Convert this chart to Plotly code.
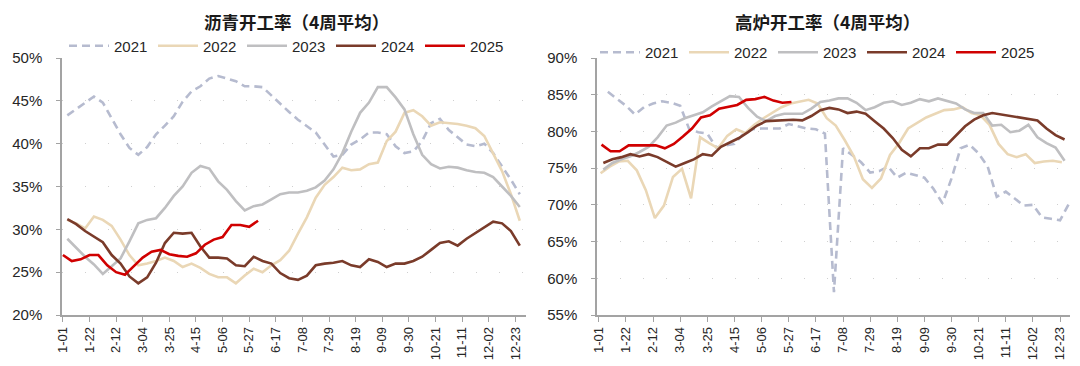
import numpy as np
import plotly.graph_objects as go

# ---------------- data ----------------
tick_labels = ["1-01", "1-22", "2-12", "3-04", "3-25", "4-15", "5-06", "5-27", "6-17",
               "7-08", "7-29", "8-19", "9-09", "9-30", "10-21", "11-11", "12-02", "12-23"]
tick_weeks = list(range(0, 52, 3))

years = ["2021", "2022", "2023", "2024", "2025"]

# 沥青开工率（4周平均） weekly values, %
asphalt_2021 = [43.3, 44.0, 44.8, 45.5, 44.8, 43.0, 41.1, 39.5, 38.7, 39.6, 41.1, 42.1, 43.2,
                44.9, 46.1, 46.7, 47.6, 47.9, 47.6, 47.3, 46.7, 46.7, 46.6, 45.6, 44.6, 43.7,
                42.8, 42.1, 41.3, 39.9, 38.5, 38.7, 39.9, 40.5, 41.3, 41.3, 41.1, 39.7, 38.9,
                39.1, 40.3, 42.4, 42.9, 41.6, 40.7, 39.9, 39.7, 40.0, 38.9, 37.4, 35.8, 34.1]
asphalt_2022 = [31.1, 30.7, 30.1, 31.5, 31.1, 30.4, 28.8, 27.0, 25.8, 26.0, 26.3, 26.7, 26.3,
                25.6, 26.0, 25.5, 24.8, 24.4, 24.4, 23.7, 24.6, 25.4, 25.0, 25.8, 26.4, 27.5,
                29.5, 31.4, 33.7, 35.2, 36.1, 37.2, 36.9, 37.0, 37.6, 37.8, 40.3, 41.4, 43.6,
                43.9, 43.2, 42.1, 42.5, 42.4, 42.3, 42.1, 41.8, 40.9, 38.9, 36.8, 34.1, 31.0]
asphalt_2023 = [28.9, 27.8, 26.8, 25.9, 24.8, 25.7, 26.6, 28.6, 30.7, 31.1, 31.3, 32.5, 33.9,
                35.0, 36.6, 37.4, 37.1, 35.6, 34.6, 33.3, 32.2, 32.7, 32.9, 33.5, 34.1, 34.3,
                34.3, 34.5, 34.9, 35.7, 37.0, 38.9, 41.4, 43.6, 44.8, 46.6, 46.6, 45.4, 44.0,
                41.1, 38.7, 37.6, 37.1, 37.3, 37.2, 36.9, 36.7, 36.6, 36.1, 35.0, 33.9, 32.6]
asphalt_2024 = [31.2, 30.6, 29.8, 29.2, 28.5, 27.0, 26.0, 24.5, 23.7, 24.4, 26.1, 28.4, 29.6,
                29.5, 29.6, 28.0, 26.7, 26.7, 26.6, 25.8, 25.7, 26.8, 26.3, 26.0, 24.9, 24.3,
                24.1, 24.6, 25.8, 26.0, 26.1, 26.3, 25.8, 25.6, 26.5, 26.2, 25.6, 26.0, 26.0,
                26.3, 26.8, 27.6, 28.4, 28.6, 28.1, 28.9, 29.6, 30.2, 30.9, 30.7, 29.8, 28.1]
asphalt_2025 = [27.0, 26.3, 26.5, 27.0, 27.0, 25.8, 25.0, 24.7, 25.7, 26.7, 27.4, 27.6, 27.1,
                26.9, 26.8, 27.2, 28.2, 28.8, 29.1, 30.5, 30.5, 30.3, 31.0]

# 高炉开工率（4周平均） weekly values, %
bf_2021 = [85.4, 84.4, 83.5, 82.3, 83.3, 83.8, 84.1, 83.9, 83.5, 80.3, 79.9, 79.7, 77.8,
           78.1, 78.3, 79.7, 80.3, 80.4, 80.4, 80.4, 81.0, 80.7, 80.4, 80.3, 79.7, 58.1,
           77.7, 76.8, 75.8, 74.4, 74.6, 75.2, 73.7, 74.4, 74.1, 73.7, 72.2, 70.2, 73.6,
           77.7, 78.2, 77.0, 75.2, 71.1, 71.8, 70.9, 69.9, 70.0, 68.3, 68.1, 67.9, 70.2]
bf_2022 = [74.3, 75.2, 75.9, 76.0, 74.7, 72.0, 68.2, 69.9, 73.8, 74.9, 70.9, 79.2, 78.4,
           77.7, 79.4, 80.3, 79.8, 80.9, 81.8, 82.6, 83.3, 83.8, 84.0, 84.3, 83.8, 81.8,
           80.8, 78.8, 76.6, 73.5, 72.3, 73.6, 76.8, 78.4, 80.4, 81.1, 81.9, 82.4, 82.9,
           83.0, 83.3, 82.5, 82.2, 80.9, 78.3, 76.9, 76.5, 76.9, 75.7, 75.9, 76.0, 75.8]
bf_2023 = [74.8, 75.7, 76.2, 76.6, 77.2, 77.9, 79.2, 80.8, 81.2, 81.8, 82.2, 82.6, 83.4,
           84.1, 84.8, 84.7, 83.2, 82.0, 81.4, 82.1, 82.4, 82.4, 82.4, 83.1, 84.0, 84.2,
           84.5, 84.5, 83.9, 82.9, 83.3, 83.9, 84.1, 83.6, 83.9, 84.4, 84.1, 84.5, 84.1,
           83.8, 83.0, 82.5, 82.5, 80.8, 80.9, 79.9, 80.1, 80.9, 79.2, 78.4, 77.8, 76.0]
bf_2024 = [75.7, 76.2, 76.5, 76.9, 76.6, 76.9, 76.5, 75.8, 75.2, 75.7, 76.2, 76.9, 76.7,
           77.9, 78.5, 79.1, 79.9, 80.8, 81.4, 81.5, 81.5, 81.6, 81.5, 82.1, 82.9, 83.2,
           83.0, 82.5, 82.7, 82.4, 81.4, 80.4, 79.1, 77.5, 76.6, 77.7, 77.7, 78.2, 78.2,
           79.4, 80.7, 81.6, 82.2, 82.5, 82.3, 82.1, 81.9, 81.7, 81.5, 80.4, 79.5, 78.9]
bf_2025 = [78.2, 77.3, 77.3, 78.1, 78.1, 78.1, 78.1, 77.7, 78.3, 79.3, 80.4, 81.9, 82.2,
           83.1, 83.3, 83.6, 84.3, 84.4, 84.7, 84.2, 83.9, 84.0]

# week of the first observation of each year (on the common month-day axis)
asphalt_first_week = [0.5, 0.5, 0.5, 0.5, 0.0]
bf_first_week = [1.0, 0.2, 0.5, 0.5, 0.3]

asphalt_series = [asphalt_2021, asphalt_2022, asphalt_2023, asphalt_2024, asphalt_2025]
bf_series = [bf_2021, bf_2022, bf_2023, bf_2024, bf_2025]

# ---------------- style ----------------
colors = ["#b6bbcf", "#ead7b6", "#bfbfc1", "#7a3b2a", "#d00000"]
dashes = ["8px,5px", "solid", "solid", "solid", "solid"]
FONT = "Liberation Sans, Arial, sans-serif"
AXIS_COLOR = "#a3a3a3"

fig = go.Figure()
for i, yr in enumerate(years):
    vals = asphalt_series[i]
    fig.add_trace(go.Scatter(
        x=asphalt_first_week[i] + np.arange(len(vals)), y=vals, mode="lines", name=yr,
        line=dict(color=colors[i], width=2.6, dash=dashes[i]),
        xaxis="x", yaxis="y", legend="legend"))
for i, yr in enumerate(years):
    vals = bf_series[i]
    fig.add_trace(go.Scatter(
        x=bf_first_week[i] + np.arange(len(vals)), y=vals, mode="lines", name=yr,
        line=dict(color=colors[i], width=2.6, dash=dashes[i]),
        xaxis="x2", yaxis="y2", legend="legend2"))

W, H = 1080, 366
ml, mr, mt, mb = 54, 18, 50, 59
pw = W - ml - mr
ph = H - mt - mb

xcommon = dict(
    tickmode="array", tickvals=tick_weeks, ticktext=tick_labels, tickangle=-90,
    showline=True, linecolor=AXIS_COLOR, linewidth=1.5,
    ticks="outside", ticklen=5, tickcolor=AXIS_COLOR, tickwidth=1.2,
    showgrid=False, zeroline=False, automargin=False,
    tickfont=dict(family=FONT, size=13, color="#262626"),
)
ycommon = dict(
    dtick=5, ticksuffix="%",
    showline=True, linecolor=AXIS_COLOR, linewidth=1.5,
    ticks="outside", ticklen=4, tickcolor=AXIS_COLOR, tickwidth=1.2,
    showgrid=True, gridcolor="#cfcfcf", griddash="1px,22px", gridwidth=1,
    zeroline=False, ticklabelstandoff=11, automargin=False,
    tickfont=dict(family=FONT, size=15, color="#262626"),
)

legcommon = dict(
    orientation="h", yanchor="middle", xanchor="left",
    bgcolor="rgba(0,0,0,0)", font=dict(family=FONT, size=15, color="#262626"),
    itemwidth=40, entrywidth=34, traceorder="normal",
)

title_y = 1 + (mt - 12.5) / ph
title_font = dict(family="Noto Sans CJK SC", size=17.5, color="#1a1a1a")

fig.update_layout(
    width=W, height=H,
    margin=dict(l=ml, r=mr, t=mt, b=mb, autoexpand=False),
    paper_bgcolor="white", plot_bgcolor="white",
    xaxis=dict(domain=[0, (518 - ml) / pw], range=[-0.1, 52.2], anchor="y", **xcommon),
    yaxis=dict(domain=[0, 1], range=[20, 50], anchor="x", **ycommon),
    xaxis2=dict(domain=[(589 - ml) / pw, 1], range=[-0.2, 52.1], anchor="y2", **xcommon),
    yaxis2=dict(domain=[0, 1], range=[55, 90], anchor="x2", **ycommon),
    legend=dict(x=(56 - ml) / pw, y=1 + 12 / ph, **legcommon),
    legend2=dict(x=(587 - ml) / pw, y=1 + 5.5 / ph, **legcommon),
    showlegend=True,
    annotations=[
        dict(text="<b>沥青开工率（4周平均）</b>", x=(288 - ml) / pw, y=title_y,
             xref="paper", yref="paper", xanchor="center", yanchor="middle", showarrow=False,
             height=24, valign="top", font=title_font),
        dict(text="<b>高炉开工率（4周平均）</b>", x=(819 - ml) / pw, y=title_y,
             xref="paper", yref="paper", xanchor="center", yanchor="middle", showarrow=False,
             height=24, valign="top", font=title_font),
    ],
)

fig.write_html("out.html")
